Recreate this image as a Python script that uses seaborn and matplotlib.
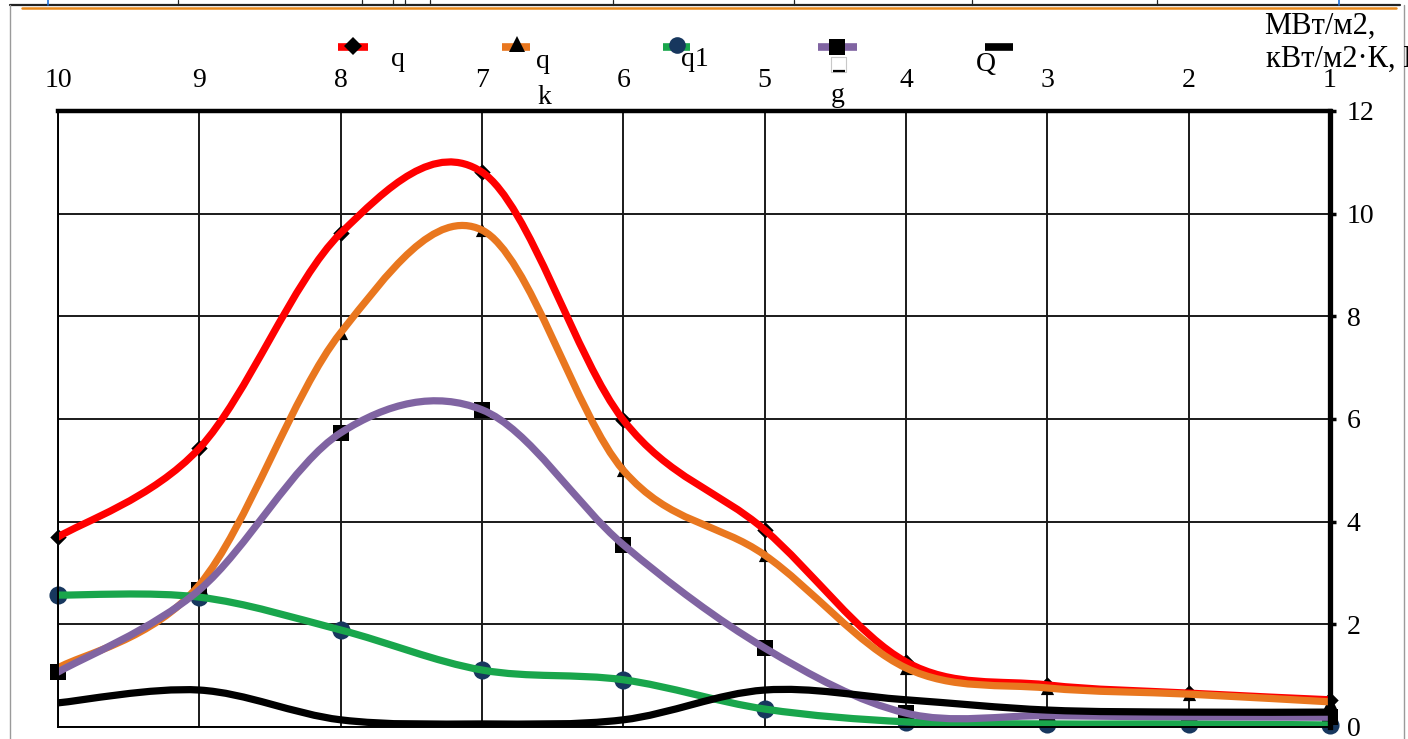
import numpy as np
import matplotlib
matplotlib.use("Agg")
import matplotlib.pyplot as plt
import matplotlib.transforms as mtransforms
from matplotlib.path import Path
from matplotlib.patches import PathPatch
from matplotlib.lines import Line2D
import pandas as pd
import seaborn as sns

# ---- data -------------------------------------------------------------
stages = [10, 9, 8, 7, 6, 5, 4, 3, 2, 1]
q_vals = [3.70, 5.43, 9.62, 10.81, 5.98, 3.84, 1.27, 0.82, 0.66, 0.53]
qk_vals = [1.15, 2.77, 7.68, 9.68, 5.00, 3.35, 1.15, 0.76, 0.64, 0.49]
q1_vals = [2.57, 2.53, 1.89, 1.11, 0.92, 0.35, 0.10, 0.06, 0.06, 0.04]
g_vals = [1.07, 2.67, 5.73, 6.18, 3.55, 1.54, 0.27, 0.22, 0.20, 0.19]
Q_vals = [0.47, 0.72, 0.14, 0.06, 0.14, 0.72, 0.53, 0.33, 0.29, 0.29]

x_ticks = [10, 9, 8, 7, 6, 5, 4, 3, 2, 1]
y_ticks = [0, 2, 4, 6, 8, 10, 12]
unit_line1 = "МВт/м2,"
unit_line2 = "кВт/м2·К, МВт"

# ---- style ------------------------------------------------------------
sns.set_style("white")
plt.rcParams["font.family"] = ["Liberation Serif", "DejaVu Serif"]

W, H = 1408, 739
fig = plt.figure(figsize=(W / 100, H / 100), dpi=100)
fig.patch.set_facecolor("white")
ax = fig.add_axes([58 / W, 1 - 727 / H, (1330 - 58) / W, (727 - 111) / H])

RED, ORANGE, GREEN, PURPLE, NAVY = "#ff0000", "#e9771f", "#19a64c", "#8064a2", "#17375e"


def smooth_path(xs, ys):
    """Cardinal (Catmull-Rom) Bezier path through the data points."""
    pts = np.column_stack([xs, ys]).astype(float)
    n = len(pts)
    verts, codes = [pts[0]], [Path.MOVETO]
    for i in range(n - 1):
        p0 = pts[i - 1] if i > 0 else pts[i]
        p1, p2 = pts[i], pts[i + 1]
        p3 = pts[i + 2] if i + 2 < n else pts[i + 1]
        verts += [p1 + (p2 - p0) / 6, p2 - (p3 - p1) / 6, p2]
        codes += [Path.CURVE4] * 3
    return Path(verts, codes)


series = [
    ("q", q_vals, RED, "D", "black", 70, 5),
    ("qk", qk_vals, ORANGE, "^", "black", 90, 6),
    ("q1", q1_vals, GREEN, "o", NAVY, 170, 7),
    ("g", g_vals, PURPLE, "s", "black", 120, 8),
    ("Q", Q_vals, "black", None, None, 0, 9),
]

for name, vals, color, marker, mcolor, msize, z in series:
    df = pd.DataFrame({"stage": stages, "value": vals})
    if marker is not None:
        sns.scatterplot(data=df, x="stage", y="value", ax=ax, marker=marker,
                        color=mcolor, s=msize, edgecolor=mcolor, linewidth=0,
                        zorder=3, clip_on=False, legend=False)
    ax.add_patch(PathPatch(smooth_path(stages, vals), fill=False, edgecolor=color,
                           lw=5.2, capstyle="round", joinstyle="round", zorder=z))

ax.set_xlim(10, 1)
ax.set_ylim(0, 12)
ax.set_xticks(x_ticks)
ax.set_xticklabels([str(t) for t in x_ticks])
ax.set_yticks(y_ticks)
ax.set_xlabel("")
ax.set_ylabel("")

ax.xaxis.tick_top()
ax.yaxis.tick_right()
ax.tick_params(axis="x", length=0, pad=13, labelsize=20, colors="black")
ax.tick_params(axis="y", length=4, width=2.5, direction="out", pad=8,
               labelsize=20, colors="black")
ax.grid(True, color="#1a1a1a", lw=1.4)
ax.set_axisbelow(True)

for side, lw in [("top", 3.2), ("right", 3.8), ("left", 1.4), ("bottom", 1.4)]:
    ax.spines[side].set_visible(True)
    ax.spines[side].set_color("black")
    ax.spines[side].set_linewidth(lw)
    ax.spines[side].set_zorder(12)

# ---- pixel transform for legend and frame pieces ----------------------
px = mtransforms.Affine2D().scale(1 / W, -1 / H).translate(0, 1) + fig.transFigure


def bar(x0, x1, y, color, lw=5.5):
    fig.add_artist(Line2D([x0, x1], [y, y], color=color, lw=lw,
                          solid_capstyle="butt", transform=px))


def dot(x, y, marker, color, ms):
    fig.add_artist(Line2D([x], [y], marker=marker, color=color, ms=ms,
                          markeredgewidth=0, linestyle="none", transform=px))


def label(x, y, s, **kw):
    fig.text(x, y, s, transform=px, fontsize=20, ha="center", va="baseline",
             color="black", **kw)


# legend
bar(338, 368, 47, RED)
dot(353, 46, "D", "black", 9)
label(398, 66, "q")

bar(502, 530, 47, ORANGE)
dot(517, 44, "^", "black", 11)
label(543, 68, "q")
label(544, 104, "k")

bar(663, 690, 47, GREEN)
dot(677, 45, "o", NAVY, 12)
label(695, 66, "q1")

bar(818, 857, 47, PURPLE)
dot(837, 47, "s", "black", 11)
fig.add_artist(Line2D([831, 846, 846, 831, 831], [57, 57, 72, 72, 57],
                      color="#c8c8c8", lw=0.8, transform=px))
bar(833, 845, 71, "black", lw=1.6)
label(838, 102, "g")

label(986, 71, "Q")
bar(985, 1013, 47, "black", lw=5.5)

# units of the value axis
fig.text(1264, 26, unit_line1, transform=px, fontsize=22, ha="left",
         va="center", color="black")
fig.text(1266, 59, unit_line2, transform=px, fontsize=22, ha="left",
         va="center", color="black")

# surrounding document frame
fig.add_artist(Line2D([10, 1400], [5, 5], color="#222222", lw=1.6, transform=px))
fig.add_artist(Line2D([22, 1396], [8, 8], color="#e8891c", lw=1.8, transform=px))
fig.add_artist(Line2D([10, 10], [5, 739], color="#9a9a9a", lw=1.0, transform=px))
fig.add_artist(Line2D([1404, 1404], [5, 739], color="#9a9a9a", lw=1.0, transform=px))
for xv in [178, 362, 393, 405, 430, 613, 794, 972, 1157]:
    fig.add_artist(Line2D([xv, xv], [0, 5], color="#222222", lw=0.9, transform=px))
for xv in [48, 1339]:
    fig.add_artist(Line2D([xv, xv], [0, 5], color="#1e6fd9", lw=1.2, transform=px))

fig.savefig("out.png", dpi=100, facecolor="white")
